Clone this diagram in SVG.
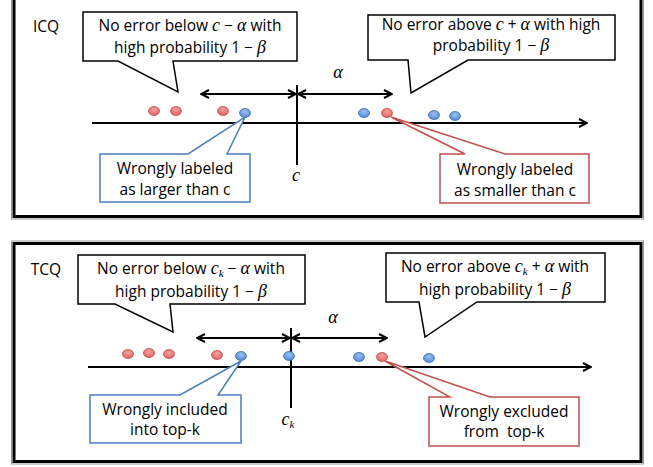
<svg xmlns="http://www.w3.org/2000/svg" width="653" height="467" viewBox="0 0 653 467">
<defs>
<radialGradient id="gr" cx="0.5" cy="0.35" r="0.7">
<stop offset="0" stop-color="#f4a3a1"/><stop offset="1" stop-color="#e05c59"/>
</radialGradient>
<radialGradient id="gb" cx="0.5" cy="0.35" r="0.7">
<stop offset="0" stop-color="#9cc0ee"/><stop offset="1" stop-color="#4f86d6"/>
</radialGradient>
<marker id="ah" viewBox="0 0 10 10" refX="9" refY="5" markerWidth="10" markerHeight="10" markerUnits="userSpaceOnUse" orient="auto-start-reverse">
<path d="M1,1 L9,5 L1,9" fill="none" stroke="#000" stroke-width="2"/>
</marker>
<style>
.frame{fill:#fff;stroke:#000;stroke-width:3}
.frame2{fill:none;stroke:#999;stroke-width:1}
.call{fill:#fff;stroke:#000;stroke-width:1.5}
.callb{fill:#fff;stroke:#4a7ebb;stroke-width:1.5}
.callr{fill:#fff;stroke:#c0504d;stroke-width:1.5}
.t{font-family:"Open Sans","Liberation Sans",sans-serif;font-size:15.5px;fill:#000;text-anchor:middle}
.m{font-family:"Liberation Serif",serif;font-style:italic;font-size:18px}
.s{font-family:"Liberation Serif",serif;font-style:italic;font-size:11px}
.ln{stroke:#000;stroke-width:2;fill:none}
.rd{fill:url(#gr);stroke:#c0504d;stroke-width:0.8}
.bd{fill:url(#gb);stroke:#3b6fb6;stroke-width:0.8}
</style>
</defs>
<rect x="0" y="0" width="653" height="467" fill="#fff"/>

<g id="panel-icq">
<rect class="frame" x="14" y="-3" width="627" height="219.5"/>
<rect class="frame2" x="11.5" y="-5" width="632" height="224"/>
<text class="t" x="46" y="32">ICQ</text>
</g>
<g id="panel-tcq">
<rect class="frame" x="14" y="243.5" width="627" height="218"/>
<rect class="frame2" x="11.5" y="241" width="632" height="223"/>
<text class="t" x="46" y="275">TCQ</text>
</g>

<g id="connectors">
<line class="ln" x1="92" y1="123" x2="587" y2="123" marker-end="url(#ah)"/>
<line class="ln" x1="297" y1="85" x2="297" y2="165"/>
<line class="ln" x1="201" y1="94" x2="296" y2="94" marker-start="url(#ah)" marker-end="url(#ah)"/>
<line class="ln" x1="298" y1="94" x2="392" y2="94" marker-start="url(#ah)" marker-end="url(#ah)"/>
<line class="ln" x1="88" y1="367" x2="591" y2="367" marker-end="url(#ah)"/>
<line class="ln" x1="291" y1="328" x2="291" y2="408"/>
<line class="ln" x1="197" y1="338" x2="290" y2="338" marker-start="url(#ah)" marker-end="url(#ah)"/>
<line class="ln" x1="292" y1="338" x2="387" y2="338" marker-start="url(#ah)" marker-end="url(#ah)"/>
</g>

<g id="icq-labels">
<text class="m" x="296" y="181" text-anchor="middle">c</text>
<text class="m" x="338" y="78" text-anchor="middle">α</text>
</g>

<g id="icq-dots">
<ellipse class="rd" cx="154" cy="111" rx="5.5" ry="4.5"/>
<ellipse class="rd" cx="176" cy="111" rx="5.5" ry="4.5"/>
<ellipse class="rd" cx="223" cy="111" rx="5.5" ry="4.5"/>
<ellipse class="bd" cx="245" cy="113" rx="5.5" ry="4.5"/>
<ellipse class="bd" cx="364" cy="113" rx="5.5" ry="4.5"/>
<ellipse class="rd" cx="387" cy="113" rx="5.5" ry="4.5"/>
<ellipse class="bd" cx="434" cy="115" rx="5.5" ry="4.5"/>
<ellipse class="bd" cx="455" cy="116" rx="5.5" ry="4.5"/>
</g>

<g id="icq-callout-below">
<path class="call" d="M83,12 H297 V61 H173 L178,92 L118,61 H83 Z"/>
<text class="t" x="190" y="31">No error below <tspan class="m">c</tspan> − <tspan class="m">α</tspan> with</text>
<text class="t" x="190" y="53">high probability 1 − <tspan class="m">β</tspan></text>
</g>
<g id="icq-callout-above">
<path class="call" d="M368,15 H615 V60 H468 L411,93 L408,60 H368 Z"/>
<text class="t" x="491" y="30">No error above <tspan class="m">c</tspan> + <tspan class="m">α</tspan> with high</text>
<text class="t" x="491" y="51">probability 1 − <tspan class="m">β</tspan></text>
</g>
<g id="icq-callout-larger">
<path class="callb" d="M100,154 H188 L245,117 L227,154 H250 V202 H100 Z"/>
<text class="t" x="175" y="174">Wrongly labeled</text>
<text class="t" x="175" y="195">as larger than c</text>
</g>
<g id="icq-callout-smaller">
<path class="callr" d="M440,154 H465 L391,117 L505,154 H589 V203 H440 Z"/>
<text class="t" x="515" y="175">Wrongly labeled</text>
<text class="t" x="515" y="196">as smaller than c</text>
</g>

<g id="tcq-labels">
<text class="m" x="288" y="425" text-anchor="middle">c<tspan class="s" dy="3">k</tspan></text>
<text class="m" x="333" y="323" text-anchor="middle">α</text>
</g>

<g id="tcq-dots">
<ellipse class="rd" cx="128" cy="354" rx="5.5" ry="4.5"/>
<ellipse class="rd" cx="149" cy="353" rx="5.5" ry="4.5"/>
<ellipse class="rd" cx="169" cy="354" rx="5.5" ry="4.5"/>
<ellipse class="rd" cx="217" cy="355" rx="5.5" ry="4.5"/>
<ellipse class="bd" cx="241" cy="356" rx="5.5" ry="4.5"/>
<ellipse class="bd" cx="289" cy="356" rx="5.5" ry="4.5"/>
<ellipse class="bd" cx="359" cy="357" rx="5.5" ry="4.5"/>
<ellipse class="rd" cx="382" cy="357" rx="5.5" ry="4.5"/>
<ellipse class="bd" cx="429" cy="358" rx="5.5" ry="4.5"/>
</g>

<g id="tcq-callout-below">
<path class="call" d="M78,255 H305 V304 H170 L173,332 L115,304 H78 Z"/>
<text class="t" x="191" y="274">No error below <tspan class="m">c</tspan><tspan class="s" dy="3">k</tspan><tspan dy="-3"> − </tspan><tspan class="m">α</tspan> with</text>
<text class="t" x="191" y="297">high probability 1 − <tspan class="m">β</tspan></text>
</g>
<g id="tcq-callout-above">
<path class="call" d="M386,253 H605 V302 H477 L425,337 L419,302 H386 Z"/>
<text class="t" x="495" y="272">No error above <tspan class="m">c</tspan><tspan class="s" dy="3">k</tspan><tspan dy="-3"> + </tspan><tspan class="m">α</tspan> with</text>
<text class="t" x="495" y="295">high probability 1 − <tspan class="m">β</tspan></text>
</g>
<g id="tcq-callout-included">
<path class="callb" d="M90,395 H180 L241,361 L218,395 H241 V443 H90 Z"/>
<text class="t" x="165" y="415">Wrongly included</text>
<text class="t" x="165" y="435">into top-k</text>
</g>
<g id="tcq-callout-excluded">
<path class="callr" d="M429,397 H450 L385,361 L490,397 H579 V446 H429 Z"/>
<text class="t" x="504" y="417">Wrongly excluded</text>
<text class="t" x="504" y="437" xml:space="preserve">from  top-k</text>
</g>
</svg>
